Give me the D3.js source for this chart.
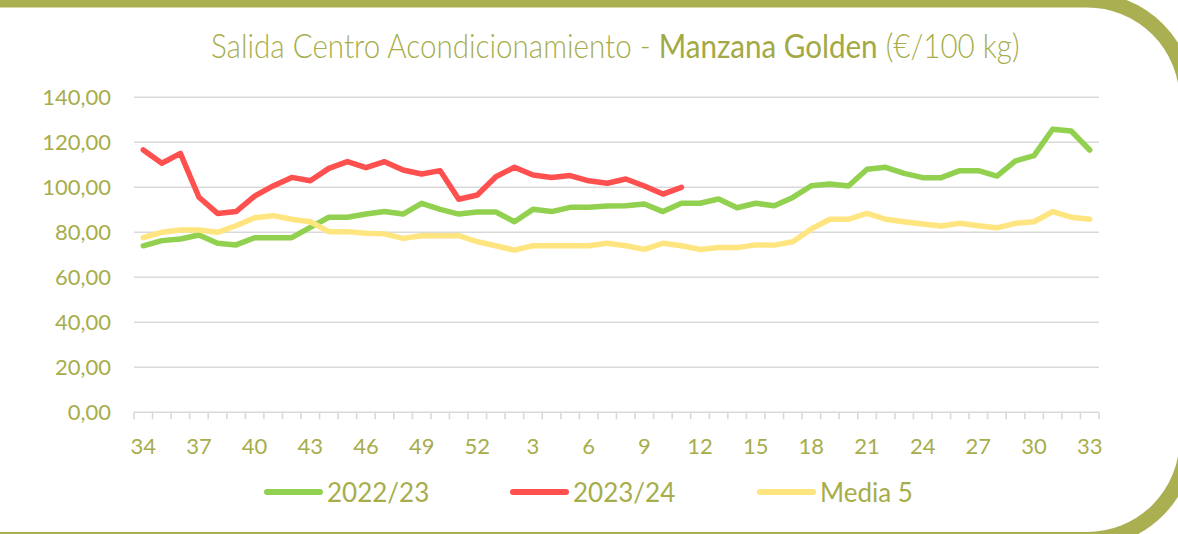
<!DOCTYPE html>
<html>
<head>
<meta charset="utf-8">
<script src="https://cdn.jsdelivr.net/npm/d3@7.9.0/dist/d3.min.js"></script>
<style>
  html, body { margin: 0; padding: 0; background: #fff; overflow: hidden; }
  text { font-family: Lato, "Open Sans", sans-serif; }
</style>
</head>
<body>
<div id="chart"></div>
<script>
// week of the marketing campaign (34 -> 52, then 1 -> 33)
const weeks = ["34","35","36","37","38","39","40","41","42","43","44","45","46","47","48","49","50","51","52",
  "1","2","3","4","5","6","7","8","9","10","11","12","13","14","15","16","17","18","19","20",
  "21","22","23","24","25","26","27","28","29","30","31","32","33"];
const tickWeeks = ["34","37","40","43","46","49","52","3","6","9","12","15","18","21","24","27","30","33"];
const yTicks = [0, 20, 40, 60, 80, 100, 120, 140];

const s2022 = [74.0, 76.3, 77.0, 78.8, 75.1, 74.4, 77.6, 77.6, 77.6, 82.2, 86.7, 86.7, 88.1, 89.2, 88.1, 92.9,
  90.2, 88.1, 89.0, 89.0, 84.7, 90.2, 89.2, 91.1, 91.1, 91.7, 91.8, 92.6, 89.2, 92.9, 92.9, 94.8, 90.9, 92.9,
  91.8, 95.5, 100.7, 101.5, 100.6, 108.0, 108.9, 106.2, 104.3, 104.3, 107.4, 107.4, 105.0, 111.7, 114.1,
  125.8, 125.0, 116.6];
const s2023 = [116.6, 110.7, 115.1, 95.6, 88.4, 89.2, 96.1, 100.6, 104.4, 102.9, 108.4, 111.4, 108.7, 111.4,
  107.7, 105.9, 107.4, 94.7, 96.6, 104.7, 108.9, 105.5, 104.4, 105.2, 102.9, 101.8, 103.7, 100.6, 97.0, 100.0];
const media5 = [77.6, 80.0, 81.0, 81.0, 80.0, 82.9, 86.5, 87.4, 85.8, 84.7, 80.3, 80.3, 79.6, 79.3, 77.3, 78.5,
  78.5, 78.5, 75.8, 74.0, 72.1, 74.0, 74.0, 74.0, 74.0, 75.1, 74.0, 72.4, 75.1, 74.0, 72.4, 73.2, 73.2, 74.4,
  74.3, 75.8, 81.5, 85.8, 85.8, 88.4, 85.8, 84.7, 83.7, 82.8, 84.0, 82.9, 82.0, 84.0, 84.7, 89.2, 86.7, 85.8];

const series = [
  { name: "2022/23", color: "#92d050", values: s2022 },
  { name: "2023/24", color: "#ff5050", values: s2023 },
  { name: "Media 5", color: "#ffe57f", values: media5 }
];

const width = 1178, height = 534;
const olive = "#a7ad4b";
const frame = "#aab052";

const svg = d3.select("#chart").append("svg")
  .attr("width", width)
  .attr("height", height);

// frame: big rounded box, only part of it is inside the picture
svg.append("rect")
  .attr("x", -120).attr("y", 0)
  .attr("width", 1307).attr("height", 539.5)
  .attr("rx", 100).attr("ry", 100)
  .attr("fill", "none")
  .attr("stroke", frame)
  .attr("stroke-width", 15);

const x = d3.scaleBand()
  .domain(weeks)
  .range([134, 1099])
  .padding(0);

const y = d3.scaleLinear()
  .domain([0, 140])
  .range([412.3, 97.3]);

// gridlines
svg.append("g")
  .selectAll("line")
  .data(yTicks.filter(d => d > 0))
  .join("line")
  .attr("x1", x.range()[0]).attr("x2", x.range()[1])
  .attr("y1", d => y(d)).attr("y2", d => y(d))
  .attr("stroke", "#d9d9d9")
  .attr("stroke-width", 1.6);

// category axis line + ticks between categories
const axisG = svg.append("g");
axisG.append("line")
  .attr("x1", x.range()[0]).attr("x2", x.range()[1])
  .attr("y1", y(0)).attr("y2", y(0))
  .attr("stroke", "#d9d9d9")
  .attr("stroke-width", 1.6);
axisG.selectAll(".tk")
  .data(weeks.map(w => x(w)).concat([x.range()[1]]))
  .join("line")
  .attr("class", "tk")
  .attr("x1", d => d).attr("x2", d => d)
  .attr("y1", y(0)).attr("y2", y(0) + 7)
  .attr("stroke", "#d9d9d9")
  .attr("stroke-width", 1.6);

// x labels
const xAxis = svg.append("g")
  .attr("transform", `translate(0,${y(0)})`)
  .call(d3.axisBottom(x).tickValues(tickWeeks).tickSize(0).tickPadding(26));
xAxis.select(".domain").remove();
xAxis.selectAll("text")
  .attr("fill", olive)
  .style("font-size", "22px")
  .style("font-family", "Lato, sans-serif");

// y labels
const fmt = d => d3.format(".2f")(d).replace(".", ",");
const yAxis = svg.append("g")
  .attr("transform", `translate(${x.range()[0]},0)`)
  .call(d3.axisLeft(y).tickValues(yTicks).tickFormat(fmt).tickSize(0).tickPadding(23));
yAxis.select(".domain").remove();
yAxis.selectAll("text")
  .attr("fill", olive)
  .style("font-size", "22px")
  .style("font-family", "Lato, sans-serif");

// lines
const line = d3.line()
  .x((d, i) => x(weeks[i]) + x.bandwidth() / 2)
  .y(d => y(d));

svg.append("g")
  .selectAll("path")
  .data(series)
  .join("path")
  .attr("d", d => line(d.values))
  .attr("fill", "none")
  .attr("stroke", d => d.color)
  .attr("stroke-width", 5.5)
  .attr("stroke-linejoin", "round")
  .attr("stroke-linecap", "round");

// title (Calibri-like: squeeze Lato to the original width)
const title = svg.append("text")
  .attr("x", 0)
  .attr("y", 58)
  .attr("fill", olive)
  .style("font-size", "33px");
title.append("tspan").style("font-weight", 300).text("Salida Centro Acondicionamiento - ");
title.append("tspan").style("font-weight", 400).attr("fill", "#a3a944").text("Manzana Golden");
title.append("tspan").style("font-weight", 300).text(" (€/100 kg)");
const tw = title.node().getComputedTextLength();
const sx = 809 / tw;
title.attr("transform", `translate(211,0) scale(${sx},1)`);

// legend
const legendX = [267, 513, 760];
const legend = svg.append("g")
  .selectAll("g")
  .data(series)
  .join("g")
  .attr("transform", (d, i) => `translate(${legendX[i]},492)`);
legend.append("line")
  .attr("x1", 0).attr("x2", 53)
  .attr("stroke", d => d.color)
  .attr("stroke-width", 6)
  .attr("stroke-linecap", "round");
legend.append("text")
  .attr("x", 60)
  .attr("y", 10)
  .attr("fill", olive)
  .style("font-size", "26px")
  .text(d => d.name);
</script>
</body>
</html>
